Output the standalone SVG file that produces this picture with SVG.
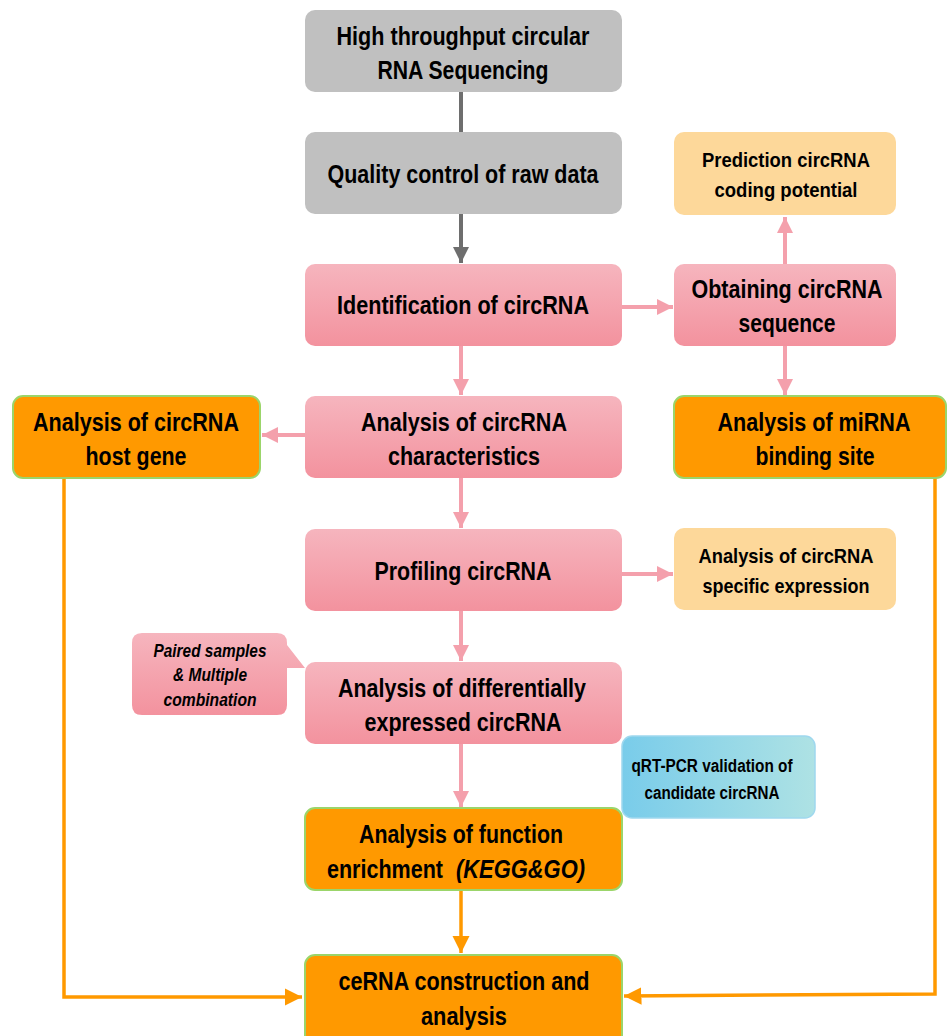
<svg xmlns="http://www.w3.org/2000/svg" width="948" height="1036" viewBox="0 0 948 1036">
<defs>
<linearGradient id="pink" x1="0" y1="0" x2="0" y2="1"><stop offset="0" stop-color="#F6B5BE"/><stop offset="1" stop-color="#F3929E"/></linearGradient>
<linearGradient id="blue" x1="0" y1="0" x2="1" y2="0"><stop offset="0" stop-color="#79CCEA"/><stop offset="1" stop-color="#AEE2E4"/></linearGradient>
<marker id="ag" viewBox="0 0 10 10" refX="10" refY="5" markerWidth="4" markerHeight="4" orient="auto" markerUnits="strokeWidth"><path d="M0,0L10,5L0,10z" fill="#6E6E6E"/></marker>
<marker id="ap" viewBox="0 0 10 10" refX="10" refY="5" markerWidth="4" markerHeight="4" orient="auto" markerUnits="strokeWidth"><path d="M0,0L10,5L0,10z" fill="#F4A0AC"/></marker>
<marker id="ao" viewBox="0 0 10 10" refX="10" refY="5" markerWidth="5" markerHeight="5" orient="auto" markerUnits="strokeWidth"><path d="M0,0L10,5L0,10z" fill="#FF9900"/></marker>
</defs>
<style>
text{font-family:"Liberation Sans",Arial,sans-serif;font-weight:bold;text-anchor:middle;fill:#000}
.big{font-size:26px}
.mid{font-size:21px}
.sm{font-size:18px}
.st{text-anchor:start}
.gray{fill:#C0C0C0}
.pk{fill:url(#pink)}
.or{fill:#FF9900;stroke:#9BD56A;stroke-width:2}
.lo{fill:#FDD89A}
.bl{fill:url(#blue);stroke:#9FD8EE;stroke-width:1.5}
.cg{stroke:#6E6E6E;stroke-width:4;fill:none}
.cp{stroke:#F4A0AC;stroke-width:4;fill:none}
.co{stroke:#FF9900;stroke-width:3.5;fill:none}
</style>
<g id="connectors">
<line class="cg" x1="461" y1="92" x2="461" y2="132"/>
<line class="cg" x1="461" y1="214" x2="461" y2="263" marker-end="url(#ag)"/>
<line class="cp" x1="622" y1="307" x2="673" y2="307" marker-end="url(#ap)"/>
<line class="cp" x1="785" y1="264" x2="785" y2="217" marker-end="url(#ap)"/>
<line class="cp" x1="461" y1="346" x2="461" y2="395" marker-end="url(#ap)"/>
<line class="cp" x1="785" y1="346" x2="785" y2="395" marker-end="url(#ap)"/>
<line class="cp" x1="305" y1="435" x2="262" y2="435" marker-end="url(#ap)"/>
<line class="cp" x1="461" y1="478" x2="461" y2="528" marker-end="url(#ap)"/>
<line class="cp" x1="622" y1="574" x2="673" y2="574" marker-end="url(#ap)"/>
<line class="cp" x1="461" y1="611" x2="461" y2="661" marker-end="url(#ap)"/>
<line class="cp" x1="461" y1="744" x2="461" y2="807" marker-end="url(#ap)"/>
<line class="co" x1="461" y1="890" x2="461" y2="953" marker-end="url(#ao)"/>
<polyline class="co" points="64,478 64,997 302,997" marker-end="url(#ao)"/>
<polyline class="co" points="935,478 935,994 624,996" marker-end="url(#ao)"/>
</g>
<g id="n1"><rect class="gray" x="305" y="10" width="317" height="82" rx="10"/><text class="big" x="463" y="45" textLength="253" lengthAdjust="spacingAndGlyphs">High throughput circular</text><text class="big" x="463" y="79" textLength="171" lengthAdjust="spacingAndGlyphs">RNA Sequencing</text></g>
<g id="n2"><rect class="gray" x="305" y="132" width="317" height="82" rx="10"/><text class="big" x="463" y="183" textLength="271" lengthAdjust="spacingAndGlyphs">Quality control of raw data</text></g>
<g id="n3"><rect class="pk" x="305" y="264" width="317" height="82" rx="10"/><text class="big" x="463" y="314" textLength="252" lengthAdjust="spacingAndGlyphs">Identification of circRNA</text></g>
<g id="n4"><rect class="pk" x="674" y="264" width="222" height="82" rx="10"/><text class="big" x="787" y="298" textLength="191" lengthAdjust="spacingAndGlyphs">Obtaining circRNA</text><text class="big" x="787" y="332" textLength="97" lengthAdjust="spacingAndGlyphs">sequence</text></g>
<g id="n5"><rect class="lo" x="674" y="132" width="222" height="83" rx="10"/><text class="mid" x="786" y="167" textLength="168" lengthAdjust="spacingAndGlyphs">Prediction circRNA</text><text class="mid" x="786" y="197" textLength="143" lengthAdjust="spacingAndGlyphs">coding potential</text></g>
<g id="n6"><rect class="pk" x="305" y="396" width="317" height="82" rx="10"/><text class="big" x="464" y="431" textLength="206" lengthAdjust="spacingAndGlyphs">Analysis of circRNA</text><text class="big" x="464" y="465" textLength="152" lengthAdjust="spacingAndGlyphs">characteristics</text></g>
<g id="n7"><rect class="or" x="13" y="396" width="247" height="82" rx="10"/><text class="big" x="136" y="431" textLength="206" lengthAdjust="spacingAndGlyphs">Analysis of circRNA</text><text class="big" x="136" y="465" textLength="101" lengthAdjust="spacingAndGlyphs">host gene</text></g>
<g id="n8"><rect class="or" x="674" y="396" width="272" height="82" rx="10"/><text class="big" x="814" y="431" textLength="193" lengthAdjust="spacingAndGlyphs">Analysis of miRNA</text><text class="big" x="815" y="465" textLength="119" lengthAdjust="spacingAndGlyphs">binding site</text></g>
<g id="n9"><rect class="pk" x="305" y="529" width="317" height="82" rx="10"/><text class="big" x="463" y="580" textLength="177" lengthAdjust="spacingAndGlyphs">Profiling circRNA</text></g>
<g id="n10"><rect class="lo" x="674" y="528" width="222" height="82" rx="10"/><text class="mid" x="786" y="563" textLength="175" lengthAdjust="spacingAndGlyphs">Analysis of circRNA</text><text class="mid" x="786" y="593" textLength="167" lengthAdjust="spacingAndGlyphs">specific expression</text></g>
<g id="n11"><path class="pk" d="M142,633 H277 Q287,633 287,643 V645 L305,668 L287,668 V705 Q287,715 277,715 H142 Q132,715 132,705 V643 Q132,633 142,633 Z"/><text class="sm" x="210" y="657" font-style="italic" textLength="113" lengthAdjust="spacingAndGlyphs">Paired samples</text><text class="sm" x="210" y="681" font-style="italic" textLength="74" lengthAdjust="spacingAndGlyphs">&amp; Multiple</text><text class="sm" x="210" y="706" font-style="italic" textLength="93" lengthAdjust="spacingAndGlyphs">combination</text></g>
<g id="n12"><rect class="pk" x="305" y="662" width="317" height="82" rx="10"/><text class="big" x="462" y="697" textLength="248" lengthAdjust="spacingAndGlyphs">Analysis of differentially</text><text class="big" x="463" y="731" textLength="197" lengthAdjust="spacingAndGlyphs">expressed circRNA</text></g>
<g id="n13"><rect class="bl" x="622" y="736" width="193" height="82" rx="10"/><text class="sm" x="712" y="772" textLength="161" lengthAdjust="spacingAndGlyphs">qRT-PCR validation of</text><text class="sm" x="712" y="799" textLength="135" lengthAdjust="spacingAndGlyphs">candidate circRNA</text></g>
<g id="n14"><rect class="or" x="305" y="808" width="317" height="82" rx="10"/><text class="big" x="461" y="843" textLength="204" lengthAdjust="spacingAndGlyphs">Analysis of function</text><text class="big st" x="327" y="878" textLength="116" lengthAdjust="spacingAndGlyphs">enrichment</text><text class="big st" x="456" y="878" font-style="italic" textLength="129" lengthAdjust="spacingAndGlyphs">(KEGG&amp;GO)</text></g>
<g id="n15"><rect class="or" x="305" y="955" width="317" height="100" rx="10"/><text class="big" x="464" y="990" textLength="251" lengthAdjust="spacingAndGlyphs">ceRNA construction and</text><text class="big" x="464" y="1025" textLength="86" lengthAdjust="spacingAndGlyphs">analysis</text></g>
</svg>
